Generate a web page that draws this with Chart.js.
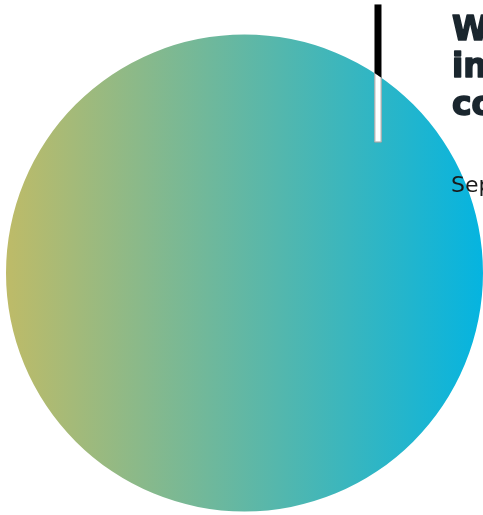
<!DOCTYPE html>
<html>
<head>
<meta charset="utf-8">
<script src="https://cdn.jsdelivr.net/npm/chart.js@4/dist/chart.umd.min.js"></script>
<style>
  html, body { margin: 0; padding: 0; background: #fff; overflow: hidden; }
  #wrap { position: relative; width: 483px; height: 515px; }
</style>
</head>
<body>
<div id="wrap"><canvas id="bubble" width="483" height="515"></canvas></div>
<script>
// data
let labels = ['Total'];
let values = [100];
let titleLines = ['What', 'in the', 'country'];
let subtitle = 'September';

// colours of the fill gradient, left -> right
let gradStops = ['#bebb68', '#05b4e0'];

// draws the marker line + heading text
let overlay = {
    id: 'overlay',
    afterDraw(chart){
        let ctx = chart.ctx;
        let arc = chart.getDatasetMeta(0).data[0];
        let cx = arc.x, cy = arc.y, r = arc.outerRadius;

        // marker line
        let lx = cx + 0.545 * r;
        let top = cy - 1.126 * r;
        let bottom = cy - 0.548 * r;
        let w = 7;
        ctx.save();
        ctx.fillStyle = '#000';
        ctx.fillRect(lx, top, w, bottom - top);
        ctx.beginPath();
        ctx.arc(cx, cy, r, 0, Math.PI * 2);
        ctx.clip();
        ctx.fillStyle = '#fff';
        ctx.fillRect(lx, top, w, bottom - top);
        ctx.strokeStyle = '#b9b9b9';
        ctx.lineWidth = 1;
        ctx.strokeRect(lx + 0.5, top + 0.5, w - 1, bottom - top - 1);
        ctx.restore();

        // heading (stroked a bit to get the heavy look)
        ctx.save();
        ctx.fillStyle = '#1a262e';
        ctx.strokeStyle = '#1a262e';
        ctx.lineWidth = 1.6;
        ctx.lineJoin = 'round';
        ctx.textBaseline = 'alphabetic';
        ctx.font = 'bold 33px "DejaVu Sans"';
        let base = [40, 77, 115];
        for(let i = 0; i < titleLines.length; i++){
            ctx.fillText(titleLines[i], 452, base[i]);
            ctx.strokeText(titleLines[i], 452, base[i]);
        }
        ctx.fillStyle = '#1a1a1a';
        ctx.font = '22px "DejaVu Sans"';
        ctx.fillText(subtitle, 451, 192);
        ctx.restore();
    }
};

let config = {
    type: 'pie',
    data: {
        labels: labels,
        datasets: [{
            data: values,
            borderWidth: 0,
            backgroundColor: function(context){
                let area = context.chart.chartArea;
                if(!area) return gradStops[1];
                let g = context.chart.ctx.createLinearGradient(area.left, 0, area.right, 0);
                g.addColorStop(0, gradStops[0]);
                g.addColorStop(1, gradStops[1]);
                return g;
            }
        }]
    },
    options: {
        responsive: false,
        animation: false,
        layout: { padding: { left: 6, top: 34, right: 0, bottom: 3 } },
        plugins: {
            legend: { display: false },
            tooltip: { enabled: false }
        }
    },
    plugins: [overlay]
};

new Chart(document.getElementById('bubble'), config);
</script>
</body>
</html>
